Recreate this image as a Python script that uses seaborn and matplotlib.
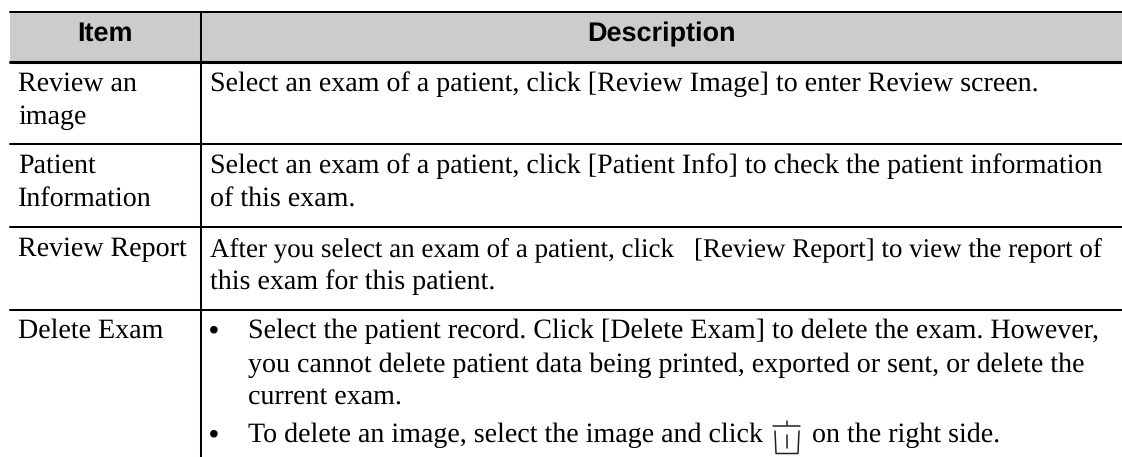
import matplotlib
matplotlib.use("Agg")
import matplotlib.pyplot as plt
import seaborn as sns
import pandas as pd

# contenido de la tabla
encabezados = ["Item", "Description"]
items = [["Review an", "image"], ["Patient", "Information"], ["Review Report"], ["Delete Exam"]]
descripciones = [
    ["Select an exam of a patient, click [Review Image] to enter Review screen."],
    ["Select an exam of a patient, click [Patient Info] to check the patient information",
     "of this exam."],
    ["After you select an exam of a patient, click", "this exam for this patient."],
    ["Select the patient record. Click [Delete Exam] to delete the exam. However,",
     "you cannot delete patient data being printed, exported or sent, or delete the",
     "current exam."],
]
resto_fila3 = "[Review Report] to view the report of"
ultima_linea = ["To delete an image, select the image and click", "on the right side."]

# geometria en pixeles de la imagen
W, H = 1122, 457
X_IZQ, X_DIV, X_DER = 10, 201, 1122
Y_REGLAS = [12, 62, 144, 227, 310]

sns.set_theme(style="white")
plt.rcParams["font.family"] = ["Liberation Serif", "DejaVu Serif"]
plt.rcParams["text.hinting"] = "no_hinting"
plt.rcParams["text.hinting_factor"] = 1
fig = plt.figure(figsize=(W / 100, H / 100), dpi=100)
ax = fig.add_axes([0, 0, 1, 1])

# fondo del encabezado
fondo = pd.DataFrame({"y": [37], "ancho": [X_DER - X_IZQ]})
ax.barh(fondo["y"], fondo["ancho"], left=X_IZQ, height=50, color="#cccccc", linewidth=0)

# reglas horizontales y divisor vertical
for i, y in enumerate(Y_REGLAS):
    lw = 2.2 if i == 1 else 1.45
    sns.lineplot(x=[X_IZQ, X_DER], y=[y, y], color="black", linewidth=lw, ax=ax, legend=False)
sns.lineplot(x=[X_DIV, X_DIV], y=[12, H], color="black", linewidth=1.45, ax=ax, orient="y", legend=False)

# encabezado
FS = 20.0
FS_FILA3 = 19.72  # esa linea va mas apretada en el original
FS_ENC = 19.6
for x, t in zip([105, 661], encabezados):
    ax.text(x, 41, t, family=["Liberation Sans"], weight="bold", fontsize=FS_ENC,
            ha="center", va="baseline", color="black")

PASO = 33.5
Y_TEXTO = [90.5, 173, 256, 338]
for lineas, y0 in zip(items, Y_TEXTO):
    for j, t in enumerate(lineas):
        ax.text(18, y0 + j * PASO, t, fontsize=FS, va="baseline", color="black")

for i, (lineas, y0) in enumerate(zip(descripciones[:3], Y_TEXTO[:3])):
    for j, t in enumerate(lineas):
        fs = FS_FILA3 if (i == 2 and j == 0) else FS
        ax.text(210, y0 + j * PASO, t, fontsize=fs, va="baseline", color="black")

ax.text(694, Y_TEXTO[2], resto_fila3, fontsize=FS_FILA3, va="baseline", color="black")

for j, t in enumerate(descripciones[3]):
    ax.text(248, Y_TEXTO[3] + j * PASO, t, fontsize=FS, va="baseline", color="black")

# vinetas
y_ult = 442
for y in [Y_TEXTO[3], y_ult]:
    ax.text(209, y, "\u2022", family=["Liberation Sans"], fontsize=FS, va="baseline", color="black")
ax.text(248, y_ult, ultima_linea[0], fontsize=FS, va="baseline", color="black")
ax.text(812, y_ult, ultima_linea[1], fontsize=FS, va="baseline", color="black")

# icono de papelera
ax.plot([773, 800], [425.5, 425.5], color="#222222", lw=1.1)
ax.plot([787, 787], [421, 425], color="#222222", lw=1.1)
ax.plot([775, 776, 798, 799], [431, 453.5, 453.5, 431], color="#222222", lw=1.1)
ax.plot([787, 787], [435, 448], color="#222222", lw=1.1)

ax.set_xlim(0, W)
ax.set_ylim(H, 0)
ax.axis("off")
fig.savefig("out.png", dpi=100)
